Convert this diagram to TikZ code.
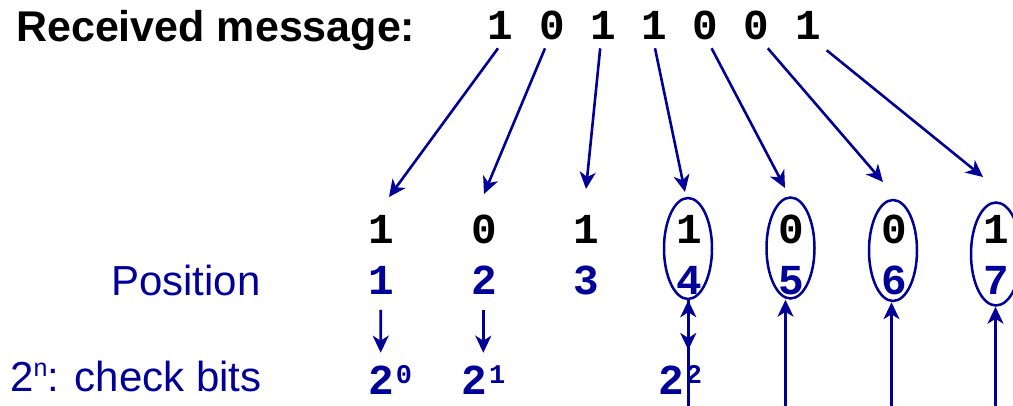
\documentclass[tikz,border=0pt]{standalone}
\usepackage{fontspec}
\setmainfont{Liberation Sans}
\newfontfamily\codefont{Liberation Mono}
\usetikzlibrary{arrows.meta,shapes.geometric}
\definecolor{navy}{RGB}{0,0,153}
\tikzset{
  lbl/.style={inner sep=0pt, anchor=base west, font=\fontsize{42}{48}\selectfont},
  bit/.style={inner sep=0pt, anchor=base, font=\codefont\bfseries\fontsize{42.7}{48}\selectfont},
  posnum/.style={bit, text=navy},
  pw/.style={inner sep=0pt, anchor=base west, text=navy, font=\codefont\bfseries\fontsize{42.7}{48}\selectfont},
  arr/.style={draw=navy, line width=2.6pt, -{Stealth[length=17pt,width=16pt,inset=5pt]}},
  ring/.style={ellipse, draw=navy, line width=2.5pt, inner sep=0pt, minimum width=48pt, minimum height=101pt},
}
\newcommand{\pwr}[1]{\raisebox{12pt}{\kern2pt\fontsize{27}{30}\selectfont #1}}
\begin{document}
\begin{tikzpicture}[x=1pt,y=-1pt]
\useasboundingbox (0,0) rectangle (1013,406);

% labels
\node[lbl, font=\bfseries\fontsize{43}{48}\selectfont] (title) at (16,41.7) {Received message:};
\node[lbl, text=navy] (poslbl) at (111,296) {Position};
\node[lbl, text=navy] (chklbl) at (10,391.7) {2\raisebox{15pt}{\fontsize{25}{28}\selectfont n}: check bits};

% received bits
\foreach \b [count=\i] in {1,0,1,1,0,0,1}
  \node[bit] (m\i) at ({500.8+51.2*(\i-1)},39.3) {\b};

% bits placed by position
\foreach \b [count=\i] in {1,0,1,1,0,0,1}{
  \node[bit] (b\i) at ({381.6+102.5*(\i-1)},243.3) {\b};
  \node[posnum] (p\i) at ({381.6+102.5*(\i-1)},295) {\i};
}

% check-bit powers
\node[pw] (w0) at (368.1,395) {2\pwr{0}};
\node[pw] (w1) at (461.4,395) {2\pwr{1}};
\node[pw] (w2) at (658.1,395) {2\pwr{2}};

% rings around data positions
\node[ring] (c4) at (688,248.5) {};
\node[ring] (c5) at (790.5,248) {};
\node[ring] (c6) at (893,250.5) {};
\node[ring, minimum width=50pt, minimum height=103pt] (c7) at (996,254) {};

% arrow ends below the received message
\coordinate (e1) at (389,197);
\coordinate (e2) at (484,194);
\coordinate (e3) at (586,189);
\coordinate (e4) at (685,192);
\coordinate (e5) at (785,188);
\coordinate (e6) at (883,182);
\coordinate (e7) at (983,177);

\draw[arr] ([xshift=-2.8pt,yshift=-9pt]m1.base) -- (e1);
\draw[arr] ([xshift=-7pt,yshift=-9pt]m2.base) -- (e2);
\draw[arr] ([xshift=-3pt,yshift=-9pt]m3.base) -- (e3);
\draw[arr] ([xshift=0.6pt,yshift=-9pt]m4.base) -- (e4);
\draw[arr] ([xshift=6pt,yshift=-9pt]m5.base) -- (e5);
\draw[arr] ([xshift=11pt,yshift=-9pt]m6.base) -- (e6);
\draw[arr] ([xshift=18.7pt,yshift=-11pt]m7.base) -- (e7);

% positions 1 and 2 are check bits
\coordinate (d1) at (380.7,352.7);
\coordinate (d2) at (483.3,352.7);
\draw[arr] ([xshift=-0.9pt,yshift=-15pt]p1.base) -- (d1);
\draw[arr] ([xshift=-0.8pt,yshift=-15pt]p2.base) -- (d2);

% lines from below into the rings
\coordinate (q4) at (688.3,410);
\coordinate (q5) at (785.5,410);
\coordinate (q6) at (891.5,410);
\coordinate (q7) at (995.5,410);
\coordinate (d4) at (688.3,350);
\draw[arr] (q4) -- (q4 |- c4.south);
\draw[arr] (q4 |- c4.south) -- (d4);
\draw[arr] (q5) -- (q5 |- c5.south);
\draw[arr] (q6) -- (q6 |- c6.south);
\draw[arr] (q7) -- (q7 |- c7.south);
\end{tikzpicture}
\end{document}
